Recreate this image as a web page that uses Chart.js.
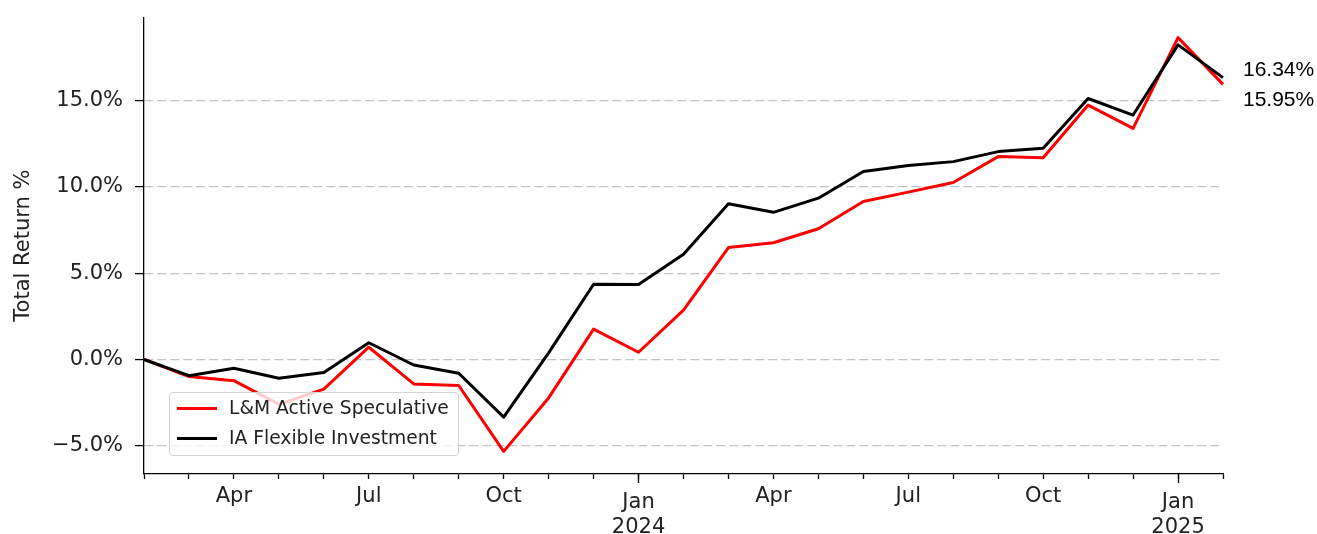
<!DOCTYPE html>
<html>
<head>
<meta charset="utf-8">
<script src="https://cdn.jsdelivr.net/npm/chart.js@4.4.1/dist/chart.umd.min.js"></script>
<style>
  body { margin: 0; background: #fff; }
  #wrap { position: relative; width: 1317px; height: 534px; }
  #legend { position: absolute; left: 169px; top: 392px; width: 288px; height: 62px;
            border: 1px solid #d4d4d4; border-radius: 4px; background: rgba(255,255,255,0.8);
            font: 18.7px "DejaVu Sans"; color: #222; }
  .row { position: absolute; left: 0; height: 30px; line-height: 30px; white-space: nowrap; }
  .swatch { position: absolute; left: 7px; top: 13.5px; width: 40px; height: 3px; }
  .txt { position: absolute; left: 59px; top: 0; }
  .end { position: absolute; left: 1243px; font: 21px "Liberation Sans"; line-height: 24px; color: #000; }
</style>
</head>
<body>
<div id="wrap">
  <canvas id="chart" width="1317" height="534"></canvas>
  <div id="legend"></div>
</div>
<script>
const months = [
  "Feb 2023","Mar 2023","Apr 2023","May 2023","Jun 2023","Jul 2023","Aug 2023","Sep 2023","Oct 2023","Nov 2023","Dec 2023",
  "Jan 2024","Feb 2024","Mar 2024","Apr 2024","May 2024","Jun 2024","Jul 2024","Aug 2024","Sep 2024","Oct 2024","Nov 2024","Dec 2024",
  "Jan 2025","Feb 2025"
];
const lmActive = [0, -0.99, -1.23, -2.6, -1.72, 0.71, -1.42, -1.51, -5.33, -2.23, 1.76,
  0.42, 2.86, 6.49, 6.77, 7.58, 9.16, 9.70, 10.26, 11.76, 11.69, 14.75, 13.40,
  18.66, 15.95];
const iaFlexible = [0, -0.94, -0.51, -1.09, -0.76, 0.97, -0.32, -0.80, -3.34, 0.38, 4.36,
  4.35, 6.10, 9.03, 8.53, 9.35, 10.90, 11.24, 11.47, 12.05, 12.24, 15.13, 14.17,
  18.24, 16.34];
const seriesNames = ["L&M Active Speculative", "IA Flexible Investment"];
const seriesColors = ["#ff0000", "#000000"];
const yTicks = [-5, 0, 5, 10, 15];
const minorMonths = ["Apr", "Jul", "Oct"];
const endLabels = ["16.34%", "15.95%"];

const yMin = -6.64, yMax = 19.84;
const font = { family: "DejaVu Sans", size: 21, lineHeight: 1.2 };

function minorLabel(i) {
  const m = months[i].split(" ")[0];
  return minorMonths.includes(m) ? m : "";
}
function majorLabel(i) {
  const [m, y] = months[i].split(" ");
  return m === "Jan" ? [m, y] : "";
}

const ctx = document.getElementById("chart").getContext("2d");
new Chart(ctx, {
  type: "line",
  data: {
    labels: months,
    datasets: [
      { label: seriesNames[0], data: lmActive, borderColor: seriesColors[0], order: 1 },
      { label: seriesNames[1], data: iaFlexible, borderColor: seriesColors[1], order: 0 }
    ]
  },
  options: {
    responsive: false,
    animation: false,
    devicePixelRatio: 1,
    layout: { padding: { top: 16, right: 94, left: 0, bottom: 0 } },
    elements: {
      line: { borderWidth: 3, tension: 0, borderJoinStyle: "round", fill: false },
      point: { radius: 0 }
    },
    plugins: { legend: { display: false }, tooltip: { enabled: false } },
    scales: {
      x: {
        type: "category", position: "bottom", offset: false,
        afterFit: s => { s.height = 60; },
        grid: { drawOnChartArea: false, tickLength: 5, tickColor: "#000", tickWidth: 1.3, offset: false },
        border: { color: "#000", width: 1.3 },
        ticks: { autoSkip: false, maxRotation: 0, minRotation: 0, padding: 5, color: "#222", font,
                 callback: (v, i) => minorLabel(i) }
      },
      x2: {
        type: "category", axis: "x", position: { y: yMin }, offset: false,
        grid: { drawOnChartArea: false, tickLength: 9, tickWidth: 1.3, offset: false,
                tickColor: c => majorLabel(c.index) ? "#000" : "rgba(0,0,0,0)" },
        border: { display: false },
        ticks: { autoSkip: false, maxRotation: 0, minRotation: 0, padding: 7, color: "#222", font,
                 callback: (v, i) => majorLabel(i) }
      },
      y: {
        min: yMin, max: yMax,
        afterFit: s => { s.width = 144; },
        afterBuildTicks: s => { s.ticks = yTicks.map(v => ({ value: v })); },
        grid: { color: "#c4c4c4", lineWidth: 1.2, tickColor: "#000", tickLength: 9, tickWidth: 1.3 },
        border: { color: "#000", width: 1.3, dash: [9, 4] },
        ticks: { padding: 12, color: "#222", font: { family: "DejaVu Sans", size: 21, lineHeight: 0.5 },
                 callback: v => (v < 0 ? "\u2212" + Math.abs(v).toFixed(1) : v.toFixed(1)) + "%" },
        title: { display: true, text: "Total Return %", color: "#222", font, padding: { top: 11, bottom: 0 } }
      }
    }
  }
});

// legend box, bottom left inside the plot
const legend = document.getElementById("legend");
seriesNames.forEach((name, i) => {
  const row = document.createElement("div");
  row.className = "row";
  row.style.top = (i * 30) + "px";
  row.innerHTML = `<span class="swatch" style="background:${seriesColors[i]}"></span><span class="txt"></span>`;
  row.querySelector(".txt").textContent = name;
  legend.appendChild(row);
});

// end value labels on the right
const wrap = document.getElementById("wrap");
endLabels.forEach((t, i) => {
  const d = document.createElement("div");
  d.className = "end";
  d.style.top = (57 + i * 30) + "px";
  d.textContent = t;
  wrap.appendChild(d);
});
</script>
</body>
</html>
